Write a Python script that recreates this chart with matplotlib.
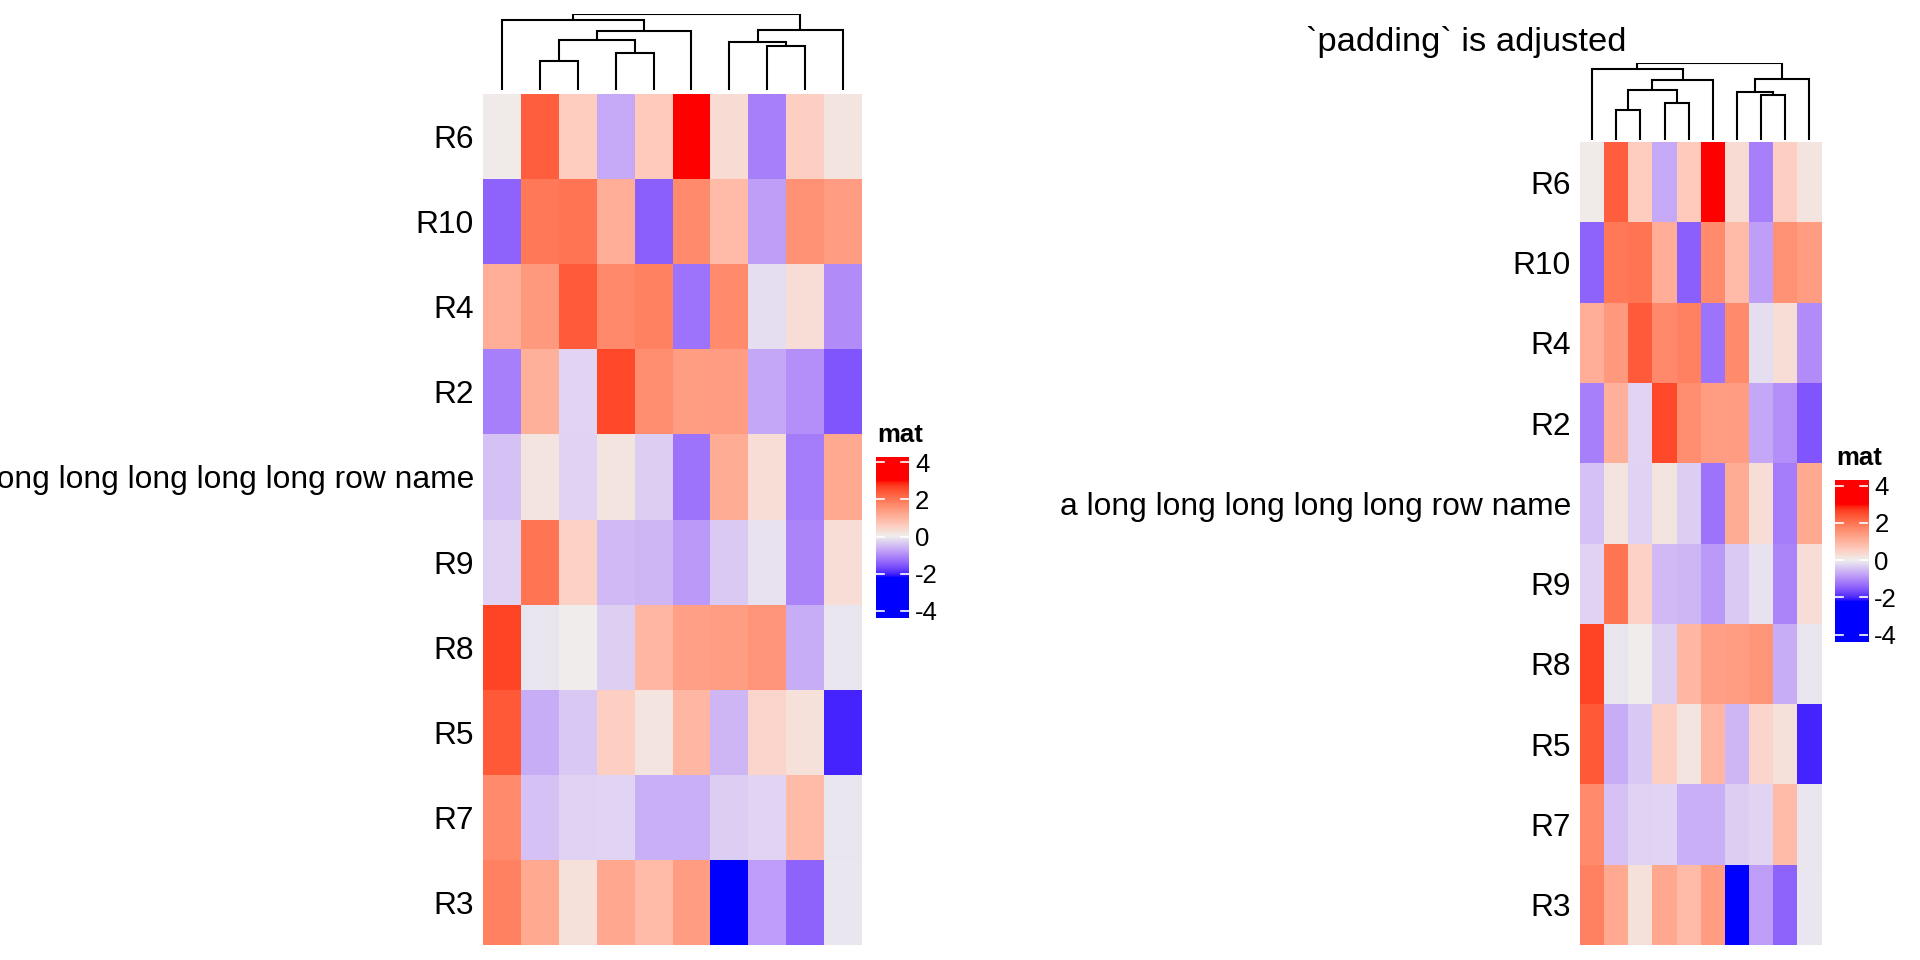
import numpy as np
import matplotlib
matplotlib.use("Agg")
import matplotlib.pyplot as plt
from matplotlib.colors import ListedColormap, TwoSlopeNorm

plt.rcParams['font.family'] = ['Liberation Sans', 'DejaVu Sans']

# rows / columns are already in the displayed (clustered) order
row_names = ["R6", "R10", "R4", "R2", "a long long long long long row name",
             "R9", "R8", "R5", "R7", "R3"]
mat = np.array([
    [0.07, 2.32, 0.57, -0.71, 0.64, 3.10, 0.32, -1.15, 0.54, 0.18],
    [-1.44, 1.93, 2.00, 1.11, -1.47, 1.68, 0.89, -0.81, 1.57, 1.39],
    [1.11, 1.43, 2.36, 1.71, 1.82, -1.26, 1.68, -0.16, 0.29, -1.00],
    [-1.15, 1.07, -0.26, 2.57, 1.64, 1.36, 1.39, -0.73, -0.97, -1.57],
    [-0.45, 0.18, -0.29, 0.18, -0.34, -1.26, 1.14, 0.29, -1.18, 1.18],
    [-0.29, 2.00, 0.50, -0.55, -0.58, -0.86, -0.37, -0.13, -1.10, 0.29],
    [2.61, -0.10, 0.04, -0.31, 0.96, 1.32, 1.36, 1.50, -0.68, -0.10],
    [2.39, -0.68, -0.39, 0.54, 0.18, 0.96, -0.58, 0.43, 0.25, -2.02],
    [1.68, -0.45, -0.29, -0.26, -0.65, -0.65, -0.34, -0.26, 0.89, -0.10],
    [1.82, 1.18, 0.25, 1.21, 0.89, 1.39, -2.35, -0.84, -1.44, -0.08],
])
# column dendrogram merges: (left id, right id, height); ids >= 10 are merges
col_merges = [(1, 2, 88), (3, 4, 110), (10, 11, 150), (12, 5, 178), (0, 13, 212),
              (7, 8, 134), (6, 15, 144), (16, 9, 182), (14, 17, 228)]
legend_ticks = [-4, -2, 0, 2, 4]
col_breaks = (-2.2, 0, 3.0)   # blue, #EEEEEE, red

W, H = 1920, 960

# colorRamp2-like mapping interpolated in LAB
M = np.array([[0.4124, 0.3576, 0.1805], [0.2126, 0.7152, 0.0722], [0.0193, 0.1192, 0.9505]])
WP = np.array([0.95047, 1.0, 1.08883])


def to_lab(rgb):
    rgb = np.asarray(rgb, float)
    lin = np.where(rgb <= 0.04045, rgb / 12.92, ((rgb + 0.055) / 1.055) ** 2.4)
    xyz = lin @ M.T / WP
    f = np.where(xyz > 0.008856, np.cbrt(xyz), 7.787 * xyz + 16 / 116)
    return np.stack([116 * f[..., 1] - 16, 500 * (f[..., 0] - f[..., 1]),
                     200 * (f[..., 1] - f[..., 2])], -1)


def from_lab(lab):
    fy = (lab[..., 0] + 16) / 116
    f = np.stack([fy + lab[..., 1] / 500, fy, fy - lab[..., 2] / 200], -1)
    xyz = np.where(f ** 3 > 0.008856, f ** 3, (f - 16 / 116) / 7.787) * WP
    lin = np.clip(xyz @ np.linalg.inv(M).T, 0, 1)
    return np.where(lin <= 0.0031308, 12.92 * lin, 1.055 * lin ** (1 / 2.4) - 0.055)


blue, grey, red = to_lab([0, 0, 1]), to_lab([0.933, 0.933, 0.933]), to_lab([1, 0, 0])
s = np.linspace(0, 1, 256)[:, None]
lab = np.where(s < 0.5, blue + (grey - blue) * (s / 0.5), grey + (red - grey) * ((s - 0.5) / 0.5))
cmap = ListedColormap(np.clip(from_lab(lab), 0, 1))
norm = TwoSlopeNorm(vmin=col_breaks[0], vcenter=col_breaks[1], vmax=col_breaks[2])

fig = plt.figure(figsize=(19.2, 9.6), dpi=100)


def px_axes(x0, y0, x1, y1):
    return fig.add_axes([x0 / W, 1 - y1 / H, (x1 - x0) / W, (y1 - y0) / H])


def draw_dend(ax):
    pos = {i: i + 0.5 for i in range(10)}
    hgt = {i: 0 for i in range(10)}
    for k, (a, b, h) in enumerate(col_merges):
        xa, xb = pos[a], pos[b]
        ax.plot([xa, xa, xb, xb], [hgt[a], h, h, hgt[b]], color='black', lw=1.5,
                solid_capstyle='butt', solid_joinstyle='miter')
        pos[10 + k] = (xa + xb) / 2
        hgt[10 + k] = h
    ax.set_xlim(0, 10)
    ax.set_ylim(0, 229)
    ax.axis('off')


def draw_panel(heat, dend, bar, mat_xy):
    ax = px_axes(*heat)
    ax.pcolormesh(mat, cmap=cmap, norm=norm, edgecolors='none', antialiased=False)
    ax.set_xlim(0, 10)
    ax.set_ylim(10, 0)
    ax.set_xticks([])
    ax.set_yticks(np.arange(10) + 0.5, row_names, fontsize=22.9)
    ax.tick_params(axis='y', length=0, pad=6.5)
    for sp in ax.spines.values():
        sp.set_visible(False)

    draw_dend(px_axes(*dend))

    cax = px_axes(*bar)
    grad = np.linspace(-4.38, 4.3, 400)[:, None]
    cax.imshow(grad, cmap=cmap, norm=norm, aspect='auto', origin='lower',
               extent=(0, 1, -4.38, 4.3), interpolation='bilinear')
    for t in legend_ticks:
        cax.plot([0, 0.25], [t, t], color='white', lw=1.2)
        cax.plot([0.75, 1], [t, t], color='white', lw=1.2)
    cax.set_xlim(0, 1)
    cax.set_ylim(-4.38, 4.3)
    cax.set_xticks([])
    cax.yaxis.tick_right()
    cax.set_yticks(legend_ticks, [str(t) for t in legend_ticks], fontsize=18.5)
    cax.tick_params(axis='y', length=0, pad=4.3)
    for sp in cax.spines.values():
        sp.set_visible(False)
    fig.text(mat_xy[0] / W, 1 - mat_xy[1] / H, "mat", fontsize=18.5,
             fontweight='bold', ha='left', va='center')


draw_panel((483, 94, 862, 945), (483, 14, 862, 90), (876, 456.7, 909, 618), (877, 435))
draw_panel((1580, 142, 1821.5, 945), (1580, 63, 1821.5, 140), (1835, 480, 1868.3, 641.7), (1836.7, 458))

fig.text(1306 / W, 1 - 51.5 / H, "`padding` is adjusted", fontsize=24.8,
         ha='left', va='baseline')

fig.savefig("out.png", dpi=100)
